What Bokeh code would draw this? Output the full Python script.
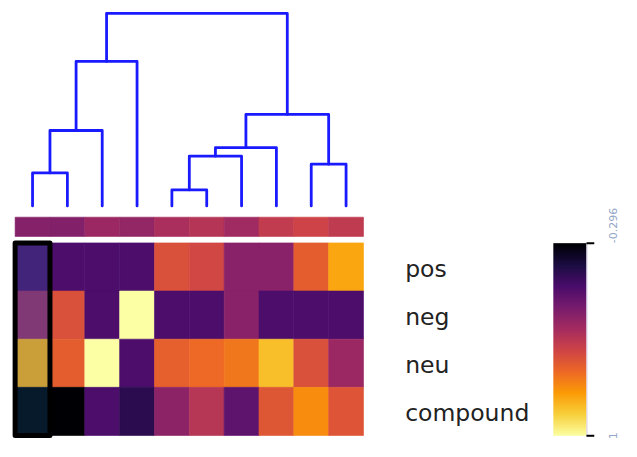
import numpy as np
from bokeh.plotting import figure
from bokeh.models import Range1d, ColumnDataSource, LinearColorMapper
from bokeh.transform import transform
from bokeh.core.properties import value
from bokeh.embed import file_html
from bokeh.resources import INLINE

# ---------------- data ----------------
row_labels = ["pos", "neg", "neu", "compound"]
pos_vals = [0.0, 0.0, 0.0, 0.0, 0.469, 0.435, 0.194, 0.194, 0.524, 0.741]
neg_vals = [0.25, 0.469, 0.0, 1.0, 0.0, 0.0, 0.194, 0.0, 0.0, 0.0]
neu_vals = [0.75, 0.524, 1.0, 0.0, 0.531, 0.565, 0.606, 0.803, 0.469, 0.248]
compound_vals = [-0.296, -0.296, 0.0, -0.103, 0.203, 0.338, 0.054, 0.496, 0.668, 0.49]
col_group_vals = [0.176, 0.174, 0.25, 0.224, 0.301, 0.335, 0.262, 0.373, 0.415, 0.37]
cbar_low, cbar_high = -0.296, 1.0
cbar_tick_labels = ["-0.296", "1"]
# dendrogram merges (child a, child b, height); ids >= 10 are earlier merges
merges = [(0, 1, 0.343), (10, 2, 0.783), (11, 3, 1.5), (4, 5, 0.166), (13, 6, 0.516),
          (14, 7, 0.606), (8, 9, 0.433), (15, 16, 0.95), (12, 17, 2.0)]
highlight_col = 0

# ---------------- style / palette ----------------
stops = ['#000004', '#1b0c41', '#4a0c6b', '#781c6d', '#a52c60',
         '#cf4446', '#ed6925', '#fb9b06', '#f7d13d', '#fcffa4']
def _rgb(h):
    return np.array([int(h[i:i + 2], 16) for i in (1, 3, 5)], dtype=float)
srgb = np.array([_rgb(s) for s in stops])
sp = np.linspace(0, 1, len(stops))
tt = np.linspace(0, 1, 256)
palette = ["#%02x%02x%02x" % tuple(int(round(np.interp(t, sp, srgb[:, c]))) for c in range(3)) for t in tt]
mapper = LinearColorMapper(palette=palette, low=cbar_low, high=cbar_high)

W, H = 621, 441
KX, KY = 0.975, 0.963          # reference-pixel -> figure-pixel scale

col_px = 35.73 * KX
heat_left = 15.0 * KX
def cx(ref_x):                  # reference x pixel -> column units
    return (ref_x - 15.0) / 35.73
def ry(ref_y):                  # reference y pixel -> row units
    return (ref_y - 251.7) / 50.0

row_px = 50.0 * KY
heat_top = 251.7 * KY
x_range = Range1d(-heat_left / col_px, (W - heat_left) / col_px)
y_range = Range1d(start=(H - heat_top) / row_px, end=-heat_top / row_px)

root_h = max(m[2] for m in merges)
base_px, root_px = 213.3 * KY, 13.3 * KY
dpp = (base_px - root_px) / root_h
dendro_range = Range1d(start=-(H - base_px) / dpp, end=base_px / dpp)

cb_top, cb_bot = 252.0 * KY, 452.0 * KY
cpp = (cb_bot - cb_top) / (cbar_high - cbar_low)
cbar_range = Range1d(start=cbar_high + (H - cb_bot) / cpp, end=cbar_low - cb_top / cpp)

p = figure(width=W, height=H, output_backend="svg", toolbar_location=None,
           x_range=x_range, y_range=y_range, x_axis_location=None, y_axis_location=None,
           min_border=0, min_border_left=0, min_border_right=0, min_border_top=0, min_border_bottom=0)
p.extra_y_ranges = {"dendro": dendro_range, "cbar": cbar_range}
p.grid.visible = False
p.outline_line_color = None
p.background_fill_color = "white"
p.border_fill_color = "white"

# ---------------- heatmap ----------------
n = len(pos_vals)
all_rows = [pos_vals, neg_vals, neu_vals, compound_vals]
xs, ys, vs = [], [], []
for r, vals in enumerate(all_rows):
    for c, v in enumerate(vals):
        xs.append(c + 0.5)
        ys.append(r + 0.5)
        vs.append(v)
src = ColumnDataSource(dict(x=xs, y=ys, v=vs))
p.rect("x", "y", 1, 1, source=src, fill_color=transform("v", mapper),
       line_color=transform("v", mapper), line_width=0.6)

# column annotation strip
strip_src = ColumnDataSource(dict(x=[c + 0.5 for c in range(n)], v=col_group_vals))
s_top, s_bot = ry(225.0), ry(245.0)
p.rect("x", (s_top + s_bot) / 2, 1, s_bot - s_top, source=strip_src,
       fill_color=transform("v", mapper), line_color=transform("v", mapper), line_width=0.6)

# highlight of first column
p.quad(left=[highlight_col], right=[highlight_col + 1], top=[0], bottom=[len(all_rows)],
       fill_color="#1f77b4", fill_alpha=0.22, line_color="black", line_width=5,
       line_join="round")

# ---------------- dendrogram ----------------
node_x = {i: i + 0.5 for i in range(n)}
node_h = {i: 0.0 for i in range(n)}
dx, dy = [], []
for k, (a, b, h) in enumerate(merges):
    idx = n + k
    dx.append([node_x[a], node_x[a], node_x[b], node_x[b]])
    dy.append([node_h[a], h, h, node_h[b]])
    node_x[idx] = (node_x[a] + node_x[b]) / 2.0
    node_h[idx] = h
p.multi_line(dx, dy, y_range_name="dendro", line_color="#1a1aff", line_width=2.8,
             line_cap="round", line_join="round")

# ---------------- row labels ----------------
p.text(x=[cx(415)] * len(row_labels), y=[r + 0.54 for r in range(len(row_labels))],
       text=row_labels, text_font=value("DejaVu Sans"), text_font_size=value("23.5px"),
       text_color="#222222", text_baseline="middle", text_align="left")

# ---------------- colorbar ----------------
ramp_vals = np.linspace(cbar_low, cbar_high, 256).reshape(256, 1)
p.image(image=[ramp_vals], x=cx(567), y=cbar_low, dw=cx(601) - cx(567),
        dh=cbar_high - cbar_low, color_mapper=mapper, y_range_name="cbar")
p.segment(x0=[cx(601.5)], x1=[cx(601.5)], y0=[cbar_low], y1=[cbar_high], y_range_name="cbar",
          line_color="#d6cce4", line_width=1)
p.segment(x0=[cx(601), cx(601)], x1=[cx(609), cx(609)], y0=[cbar_low, cbar_high],
          y1=[cbar_low, cbar_high], y_range_name="cbar", line_color="black", line_width=2)
p.text(x=[cx(628)], y=[cbar_low], text=[cbar_tick_labels[0]], angle=np.pi / 2,
       y_range_name="cbar", text_font=value("DejaVu Sans"), text_font_size=value("11px"),
       text_color="#94a6c8", text_align="left", text_baseline="middle")
p.text(x=[cx(628)], y=[cbar_high], text=[cbar_tick_labels[1]], angle=np.pi / 2,
       y_range_name="cbar", text_font=value("DejaVu Sans"), text_font_size=value("11px"),
       text_color="#94a6c8", text_align="center", text_baseline="middle")

open("out.html", "w").write(file_html(p, INLINE))
